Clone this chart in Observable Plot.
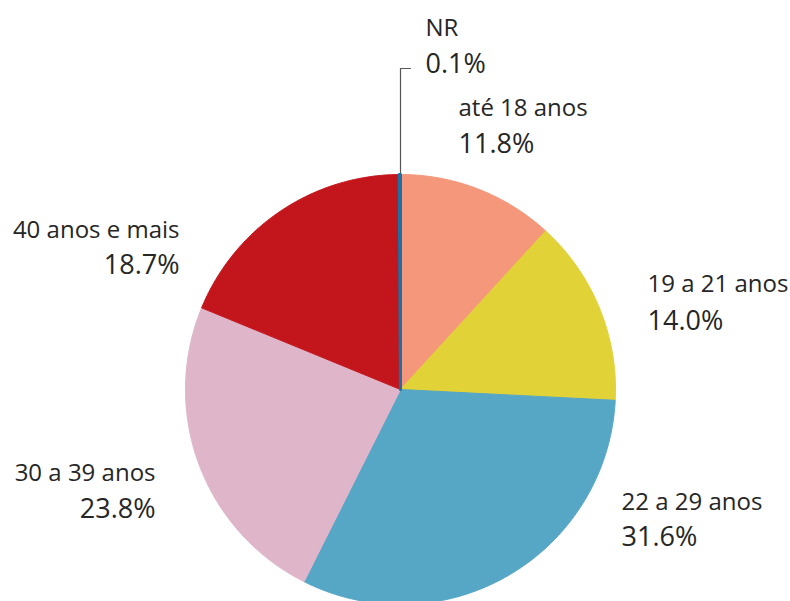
<!DOCTYPE html>
<html>
<head>
<meta charset="utf-8">
<script src="https://cdn.jsdelivr.net/npm/d3@7"></script>
<script src="https://cdn.jsdelivr.net/npm/@observablehq/plot@0.6"></script>
<style>
  html, body { margin: 0; padding: 0; background: #fff; }
  #chart svg { display: block; }
</style>
</head>
<body>
<div id="chart"></div>
<script>
// ---- data ----
const categories = ["até 18 anos", "19 a 21 anos", "22 a 29 anos", "30 a 39 anos", "40 anos e mais", "NR"];
const values = [11.8, 14.0, 31.6, 23.8, 18.7, 0.1];
const percentLabels = ["11.8%", "14.0%", "31.6%", "23.8%", "18.7%", "0.1%"];
const colors = ["#F4977A", "#E1D237", "#56A6C6", "#DFB5CA", "#C3161C", "#1D6FA5"];

// ---- layout (not data) ----
const W = 790, H = 601;
const cx = 400, cy = 389, R = 215;
// label placement: [x, baseline y of name, baseline y of percent, anchor]
const labelLayout = [
  [458, 115, 152, "start"],
  [647, 291, 329, "start"],
  [621, 509, 545, "start"],
  [155, 480, 517, "end"],
  [179, 237, 273, "end"],
  [425, 35, 72, "start"]
];

// build slice polygons via d3.pie
const pie = d3.pie().sort(null).value(d => d.value)(categories.map((c, i) => ({category: c, value: values[i]})));
const polys = [];
for (const a of pie) {
  const steps = Math.max(2, Math.ceil((a.endAngle - a.startAngle) / (Math.PI / 360)));
  polys.push({category: a.data.category, x: cx, y: cy});
  for (let k = 0; k <= steps; k++) {
    const t = a.startAngle + (a.endAngle - a.startAngle) * k / steps;
    polys.push({category: a.data.category, x: cx + R * Math.sin(t), y: cy - R * Math.cos(t)});
  }
  polys.push({category: a.data.category, x: cx, y: cy});
}
// the tiny NR slice is drawn with a thicker outline so it stays visible
const smallest = categories[values.indexOf(d3.min(values))];

const labels = categories.map((c, i) => ({
  name: c, pct: percentLabels[i],
  x: labelLayout[i][0], y1: labelLayout[i][1], y2: labelLayout[i][2], anchor: labelLayout[i][3]
}));

// NR leader line
const leader = [
  {x: 400, y: 172}, {x: 400, y: 68}, {x: 410, y: 68}
];

const textMarks = [];
for (const anchor of ["start", "end"]) {
  const sub = labels.filter(d => d.anchor === anchor);
  textMarks.push(Plot.text(sub, {x: "x", y: "y1", text: "name", textAnchor: anchor, lineAnchor: "bottom",
    fontSize: 24, fill: "#262626", fontFamily: "'Open Sans', sans-serif"}));
  textMarks.push(Plot.text(sub, {x: "x", y: "y2", text: "pct", textAnchor: anchor, lineAnchor: "bottom",
    fontSize: 27, fill: "#262626", fontFamily: "'Open Sans', sans-serif"}));
}

const chart = Plot.plot({
  width: W, height: H,
  margin: 0,
  x: {domain: [0, W], range: [0, W], axis: null},
  y: {domain: [0, H], range: [0, H], axis: null},
  color: {domain: categories, range: colors},
  style: {background: "#fff", fontFamily: "'Open Sans', sans-serif"},
  marks: [
    Plot.line(polys, {x: "x", y: "y", z: "category", fill: "category", stroke: "category", strokeWidth: 1, curve: "linear"}),
    Plot.line(polys.filter(d => d.category === smallest), {x: "x", y: "y", z: "category", fill: "category", stroke: "category", strokeWidth: 3, curve: "linear"}),
    Plot.line(leader, {x: "x", y: "y", stroke: "#555", strokeWidth: 1.2}),
    ...textMarks
  ]
});
document.getElementById("chart").appendChild(chart);
</script>
</body>
</html>
